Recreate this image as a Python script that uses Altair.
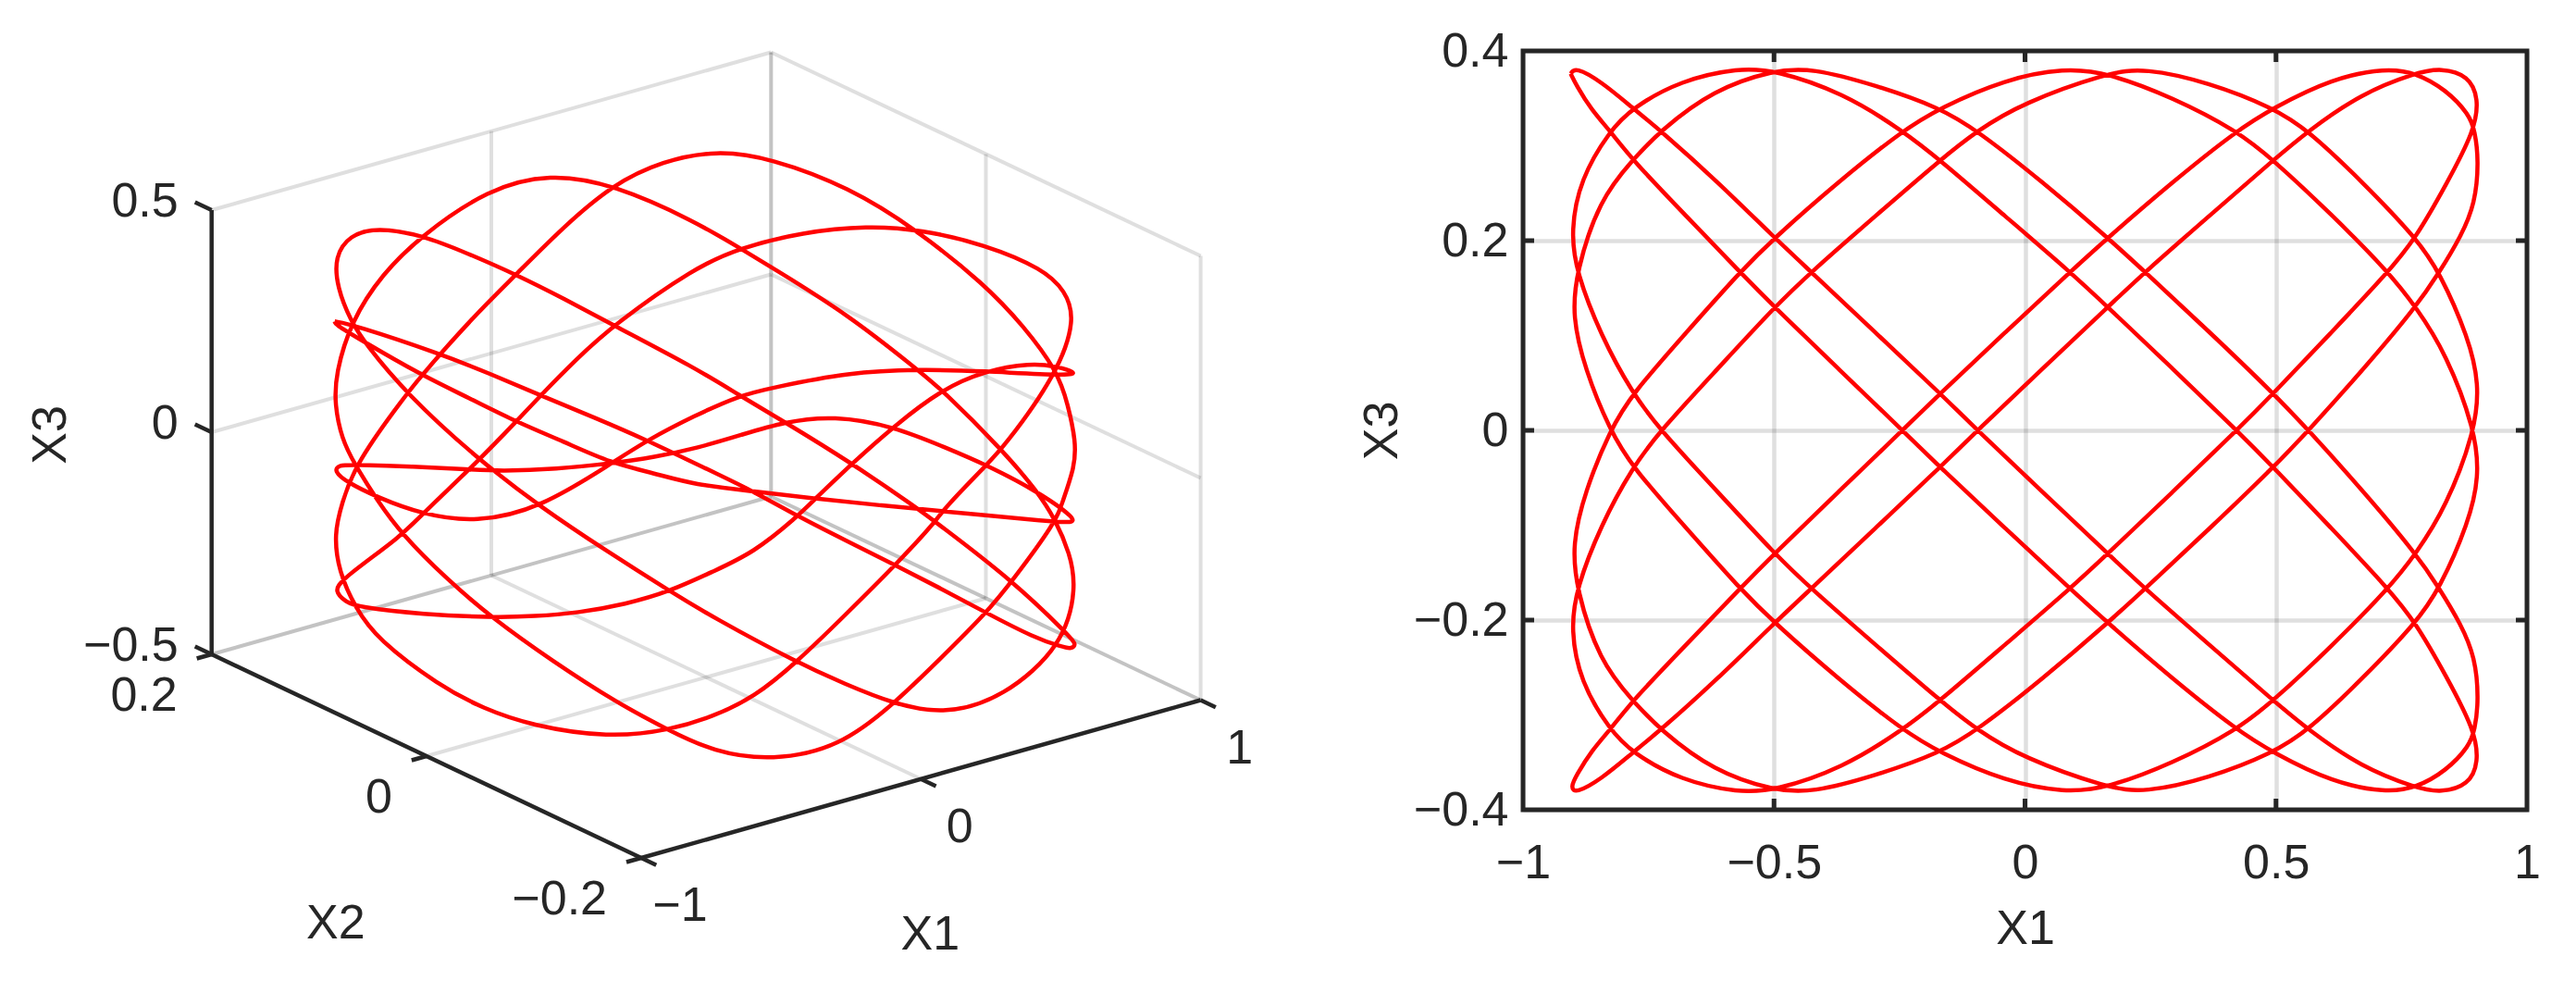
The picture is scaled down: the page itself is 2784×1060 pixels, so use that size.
import altair as alt
import pandas as pd

FONT = "Liberation Sans"
INK = "#262626"
RED = "#ff0000"
FS = 52
LW = 4.5

# ---- right panel: X1 / X3 trajectory, in drawing order
x1 = [-.905,-.894,-.864,-.827,-.782,-.675,-.568,-.499,-.372,-.244,-.169,-.04,.09,.165,.294,.422,.495,.612,.719,.779,.839,.885,.896,.904,.897,.868,.826,.779,.672,.565,.495,.367,.239,.165,.035,-.095,-.169,-.298,-.425,-.499,-.621,-.726,-.782,-.848,-.894,-.902,-.877,-.827,-.782,-.675,-.568,-.499,-.372,-.244,-.169,-.04,.079,.165,.294,.422,.495,.61,.724,.779,.839,.897,.905,.884,.826,.779,.672,.565,.495,.365,.238,.165,-.005,-.095,-.169,-.298,-.426,-.499,-.612,-.726,-.782,-.845,-.894,-.905,-.886,-.827,-.782,-.686,-.57,-.499,-.363,-.244,-.169,-.04,.09,.165,.294,.422,.495,.61,.724,.779,.839,.896,.904,.884,.829,.779,.67,.565,.495,.367,.239,.165,.035,-.095,-.169,-.298,-.426,-.499,-.612,-.726,-.782,-.845,-.896,
      -.905,-.894,-.864,-.827,-.782,-.675,-.568,-.499,-.372,-.244,-.169,-.04,.09,.165,.294,.422,.495,.612,.719,.779,.839,.885,.896,.904,.897,.868,.826,.779,.672,.565,.495,.367,.239,.165,.035,-.095,-.169,-.298,-.425,-.499,-.621,-.726,-.782,-.848,-.894,-.902,-.877,-.827,-.782,-.675,-.568,-.499,-.372,-.244,-.169,-.04,.079,.165,.294,.422,.495,.61,.724,.779,.839,.897,.905,.884,.826,.779,.672,.565,.495,.365,.238,.165,-.005,-.095,-.169,-.298,-.426,-.499,-.612,-.726,-.782,-.845,-.894,-.905,-.886,-.827,-.782,-.686,-.57,-.499,-.363,-.244,-.169,-.04,.09,.165,.294,.422,.495,.61,.724,.779,.839,.896,.904,.884,.829,.779,.67,.565,.495,.367,.239,.165,.035,-.095,-.169,-.298,-.426,-.499,-.612,-.726,-.782,-.845,-.896,
      -.905]
x3 = [.376,.364,.338,.316,.285,.226,.167,.13,.065,0,-.039,-.103,-.167,-.203,-.262,-.316,-.34,-.371,-.382,-.377,-.359,-.333,-.316,-.285,-.239,-.204,-.167,-.13,-.063,0,.039,.104,.167,.203,.262,.316,.34,.364,.382,.38,.359,.316,.285,.243,.167,.12,.065,0,-.039,-.103,-.167,-.203,-.262,-.316,-.34,-.37,-.382,-.377,-.351,-.316,-.285,-.228,-.167,-.13,-.081,0,.049,.097,.167,.203,.262,.316,.34,.367,.382,.377,.345,.316,.285,.226,.167,.13,.065,0,-.039,-.1,-.167,-.21,-.265,-.316,-.34,-.369,-.382,-.38,-.356,-.316,-.285,-.226,-.167,-.13,-.065,0,.039,.103,.167,.203,.259,.316,.35,.374,.382,.377,.355,.316,.285,.226,.167,.13,.065,0,-.039,-.103,-.167,-.203,-.262,-.316,-.34,-.368,-.383,
      -.376,-.364,-.338,-.316,-.285,-.226,-.167,-.13,-.065,0,.039,.103,.167,.203,.262,.316,.34,.371,.382,.377,.359,.333,.316,.285,.239,.204,.167,.13,.063,0,-.039,-.104,-.167,-.203,-.262,-.316,-.34,-.364,-.382,-.38,-.359,-.316,-.285,-.243,-.167,-.12,-.065,0,.039,.103,.167,.203,.262,.316,.34,.37,.382,.377,.351,.316,.285,.228,.167,.13,.081,0,-.049,-.097,-.167,-.203,-.262,-.316,-.34,-.367,-.382,-.377,-.345,-.316,-.285,-.226,-.167,-.13,-.065,0,.039,.1,.167,.21,.265,.316,.34,.369,.382,.38,.356,.316,.285,.226,.167,.13,.065,0,-.039,-.103,-.167,-.203,-.259,-.316,-.35,-.374,-.382,-.377,-.355,-.316,-.285,-.226,-.167,-.13,-.065,0,.039,.103,.167,.203,.262,.316,.34,.368,.383,
      .376]

# ---- left panel: the same trajectory as seen in the 3-D view (view-plane units)
view_x = [360.7,380,475,529,583.3,641,698.3,750,813.3,860,913,966.7,1016,1065,1116.7,1146.7,1157.3,1162.3,1155,1093.3,1010,990,920,846.7,798.3,750,661.7,609,556.7,505,455,406.7,376.7,360.7,363.3,378.3,393.3,438.3,516.7,585,654,723.3,770,860,912,965,1020,1083.3,1148.3,1162.7,1155,1140,1120,1081.7,1016.7,990,916.7,833.3,798.3,750,661.7,593.3,526.7,455,412,378.3,361.7,360.7,368.3,381.7,406.7,433.3,480,530,597,665,721.7,770,833.3,906.7,965,1015,1065,1093.3,1140,1146.7,1160.7,1161.7,1153.3,1141.7,1105,1063.3,988.3,916.7,831.7,773.3,715,661.7,607,556.7,515,475,455,438.3,383.3,368.3,360,365,383.3,406.7,473.3,522,573.3,656.7,723.3,770,813.3,860,913,966.7,1010,1016.7,1065,1083.3,1141.7,1161.7,1150,1126.7,1063.3,993.3,936.7,866.7,798.3,750,661.7,622,583.3,556.7,516.7,455,433.3,368.3,360,373.3,385,456.7,530,577,623.3,675,723.3,770,813.3,860,880,920,965,1016.7,1063.3,1113.3,1140,1162.3,1156.7,1058.3,991.7,916.7,833.3,798.3,750,698.3,660,583.3,513.3,455,406.7,373.3,360,365,381.7,444,506.7,540,600,660,706,753.3,800,846.7,900,965,1021.7,1065,1120,1162.3,1156.7,1140,1016.7,950,881.7,813.3,750,705,660,608,556.7,506,455,383.3,361.7,360.7]
view_y = [343.3,346.7,378.3,400,423.3,447,471.7,496.7,526.7,553.3,580,606.7,632,658.3,685,695,697.3,692.3,683.3,623.3,560,545,496.7,451.7,423.3,393.3,347.3,319,292.7,270,250,241.7,250,273.3,306.7,343.3,366.7,421.7,493.3,545,591,635,663.3,711.7,735,756.7,768.3,750,693.3,630,593.3,558.3,526.7,481.7,416.7,395,336.7,285,264,235,195,183.3,200,250,292,343.3,400,433.3,470,496.7,536.7,573.3,620,663.3,711,755,785,808.3,818.3,803.3,756.7,708,658.3,623.3,560,540,500,473.3,433.3,396.7,348,303.3,243.3,198.3,166.7,158.3,170,195,242,292.7,334,378.3,401.7,421.7,496.7,540,573.3,613.3,653.3,686.7,736.7,762,780,793.3,785,770,750,711.7,660,606.7,560,548.3,498.3,480,400,340,310,286.7,260,244,240,246.7,264,285,347.3,384,423.3,451.7,493.3,551.7,575,621.7,635,646.7,651.7,660,663.3,662,658.3,649,635,613.3,593.3,555,535,496.7,456.7,416.7,396.7,388.3,391.7,398.3,402.3,396.7,395,398.3,415,423.3,445,471.7,496.7,545,561,551.7,533.3,516.7,505,498.3,498.3,500,503.3,505,503,496.7,490,480,466,451.7,445,456.7,480,498.3,526.7,556.7,560.7,560,548.3,542,535,526.7,520,507,496.7,473,451.7,426,401.7,360,346.7,343.3]

# ---- axes
x1_ticks = [-1, -0.5, 0, 0.5, 1]
x3_ticks = [-0.4, -0.2, 0, 0.2, 0.4]
inner_x = [-0.5, 0, 0.5]
inner_y = [-0.2, 0, 0.2]
box_x1_ticks = [-1, 0, 1]
box_x2_ticks = [0.2, 0, -0.2]
box_x3_ticks = [-0.5, 0, 0.5]

# 3-D box -> view plane
def project(a, b, c):
    u, v, w = (a + 1) / 2, (0.2 - b) / 0.4, -0.5 - c
    return 227.7 + 604.6 * u + 464.3 * v, 703 - 170.5 * u + 220 * v + 480 * w

def segments(rows):
    out = []
    for p, q in rows:
        px, py = project(*p)
        qx, qy = project(*q)
        out.append(dict(x=px, y=py, x2=qx, y2=qy))
    return pd.DataFrame(out)

XS = alt.Scale(domain=[8, 1400], nice=False, zero=False)
YS = alt.Scale(domain=[51, 1046], nice=False, zero=False, reverse=True)
XE = alt.X("x:Q", scale=XS, axis=None)
YE = alt.Y("y:Q", scale=YS, axis=None)

def rules(rows, **kw):
    return alt.Chart(segments(rows)).mark_rule(**kw).encode(XE, YE, x2="x2:Q", y2="y2:Q")

grid_rows = []
for c in box_x3_ticks:
    grid_rows.append(((-1, .2, c), (1, .2, c)))      # back wall
    grid_rows.append(((1, .2, c), (1, -.2, c)))      # side wall
for a in [0, 1]:
    grid_rows.append(((a, .2, -.5), (a, .2, .5)))    # back wall verticals
for b in box_x2_ticks:
    grid_rows.append(((1, b, -.5), (1, b, .5)))      # side wall verticals
for a in [0, 1]:
    grid_rows.append(((a, .2, -.5), (a, -.2, -.5)))  # floor
for b in [0, .2]:
    grid_rows.append(((-1, b, -.5), (1, b, -.5)))    # floor

axis_rows = [((-1, .2, -.5), (-1, .2, .5)), ((-1, .2, -.5), (-1, -.2, -.5)), ((-1, -.2, -.5), (1, -.2, -.5))]
tick_rows = ([((-1, .2, c), (-1, .2155, c)) for c in box_x3_ticks]
             + [((-1, b, -.5), (-1.053, b, -.5)) for b in box_x2_ticks]
             + [((a, -.2, -.5), (a, -.214, -.5)) for a in box_x1_ticks])

def labels(items, **kw):
    rows = []
    for text, p in items:
        px, py = project(*p)
        rows.append(dict(x=px, y=py, t=text))
    base = dict(font=FONT, fontSize=FS, color=INK, baseline="middle")
    base.update(kw)
    return alt.Chart(pd.DataFrame(rows)).mark_text(**base).encode(XE, YE, text="t:N")

M = "\u2212"
left = alt.layer(
    rules(grid_rows, color=INK, opacity=.15, strokeWidth=4),
    rules(axis_rows, color=INK, strokeWidth=LW),
    rules(tick_rows, color=INK, strokeWidth=LW),
    alt.Chart(pd.DataFrame(dict(x=view_x, y=view_y, i=range(len(view_x)))))
       .mark_line(color=RED, strokeWidth=LW, interpolate="basis")
       .encode(XE, YE, order="i:Q"),
    labels([("0.5", (-1, .2, .5)), ("0", (-1, .2, 0)), (M + "0.5", (-1, .2, -.5))], align="right", dx=-36, dy=-9),
    labels([("0.2", (-1, .2, -.5)), ("0", (-1, 0, -.5)), (M + "0.2", (-1, -.2, -.5))], align="right", dx=-37, dy=45),
    labels([(M + "1", (-1, -.2, -.5)), ("0", (0, -.2, -.5)), ("1", (1, -.2, -.5))], align="center", dx=42, dy=52),
    labels([("X1", (0, -.2, -.5))], align="center", dx=10, dy=168),
    labels([("X2", (-1, 0, -.5))], align="center", dx=-98, dy=181),
    labels([("X3", (-1, .2, 0))], align="center", angle=270, dx=-3, dy=-174),
).properties(width=1392, height=995, view=alt.ViewBackground(stroke="transparent"))

# ---- right panel
ax = dict(labelFont=FONT, labelFontSize=FS, labelColor=INK, titleFont=FONT, titleFontSize=FS, titleColor=INK,
          titleFontWeight="normal", ticks=False, domain=False, grid=True, gridColor=INK, gridOpacity=.15,
          gridWidth=4.5, format="~g", labelFlush=False, labelOverlap=False)
RW, RH = 1085, 820
SX = alt.Scale(domain=[-1, 1], nice=False, zero=False)
SY = alt.Scale(domain=[-.4, .4], nice=False, zero=False)
AX = alt.Axis(values=x1_ticks, title="X1", labelPadding=32, titlePadding=20, **ax)
AY = alt.Axis(values=x3_ticks, title="X3", labelPadding=16, titlePadding=7, **ax)
curve = (alt.Chart(pd.DataFrame(dict(x1=x1, x3=x3, i=range(len(x1)))))
         .mark_line(color=RED, strokeWidth=LW, interpolate="basis")
         .encode(alt.X("x1:Q", scale=SX, axis=AX), alt.Y("x3:Q", scale=SY, axis=AY), order="i:Q"))
dfx = pd.DataFrame(dict(v=inner_x))
dfy = pd.DataFrame(dict(v=inner_y))
TK = dict(color=INK, strokeWidth=5)
tx = alt.X("v:Q", scale=SX, axis=AX)
ty = alt.Y("v:Q", scale=SY, axis=AY)
right = alt.layer(
    curve,
    alt.Chart(dfx).mark_rule(**TK).encode(tx, y=alt.value(0), y2=alt.value(12)),
    alt.Chart(dfx).mark_rule(**TK).encode(tx, y=alt.value(RH - 12), y2=alt.value(RH)),
    alt.Chart(dfy).mark_rule(**TK).encode(ty, x=alt.value(0), x2=alt.value(12)),
    alt.Chart(dfy).mark_rule(**TK).encode(ty, x=alt.value(RW - 12), x2=alt.value(RW)),
).properties(width=RW, height=RH,
             title=alt.TitleParams(text=" ", fontSize=10, offset=8),
             view=alt.ViewBackground(stroke=INK, strokeWidth=5))

chart = alt.hconcat(left, right, spacing=62).properties(padding=0)
chart.save("out.html", embed_options={"renderer": "svg", "actions": False})
